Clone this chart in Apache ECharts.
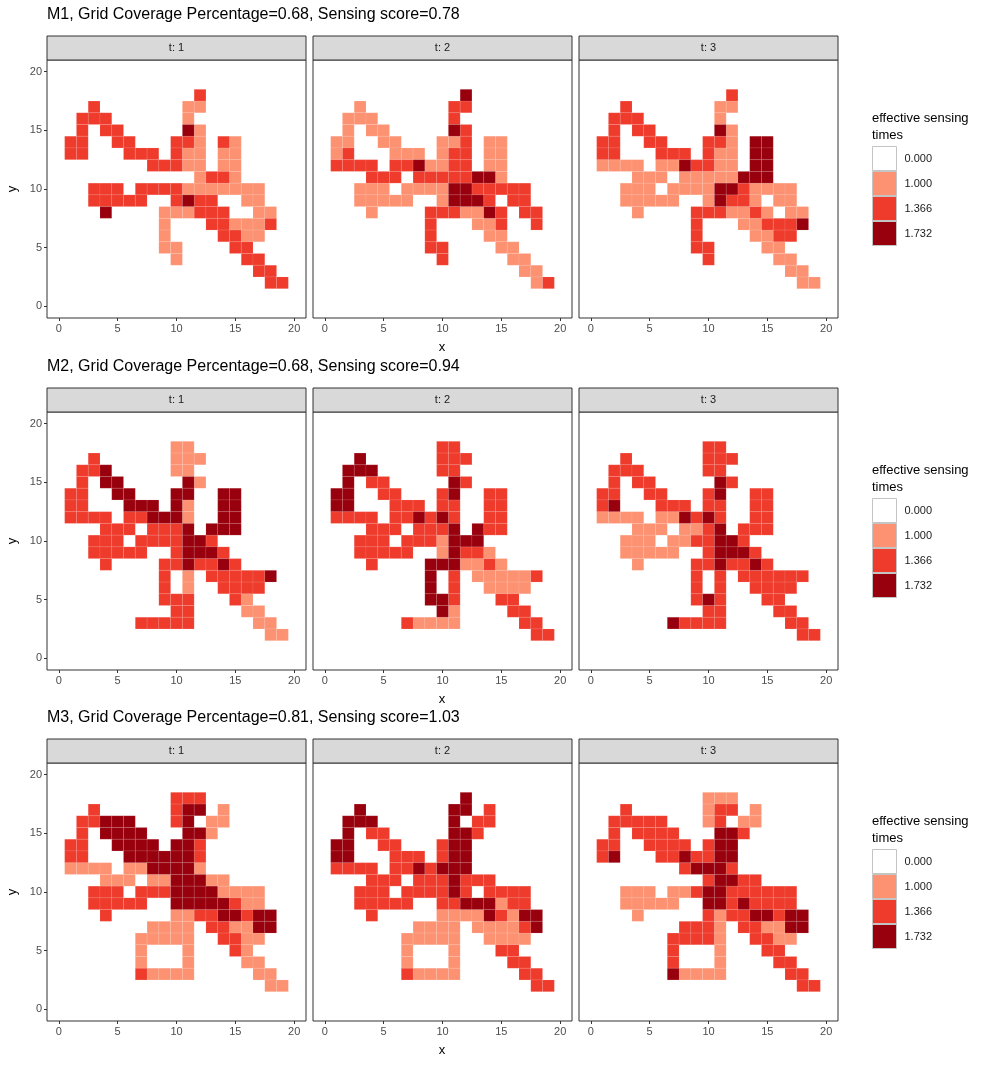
<!DOCTYPE html>
<html>
<head>
<meta charset="utf-8">
<script src="https://cdn.jsdelivr.net/npm/echarts@6/dist/echarts.min.js"></script>
<style>
  html, body { margin: 0; padding: 0; background: #fff; }
  #chart { width: 994px; height: 1070px; }
</style>
</head>
<body>
<div id="chart"></div>
<script>
// cell codes: L = 1.000, M = 1.366, D = 1.732, '.' = no cell
// each panel: rows for y = 18 down to y = 2, columns x = 0..20
const rowYs = [18, 17, 16, 15, 14, 13, 12, 11, 10, 9, 8, 7, 6, 5, 4, 3, 2];

const m1t1 = [
  "............M........",
  "...M.......LL........",
  "..MMM......L.........",
  "..M.MM.....DL........",
  ".MM..MM...MML.ML.....",
  ".MM...MMM.MLL.LL.....",
  "........MMMLL.LL.....",
  "............LMML.....",
  "...MMM.MMMMLLLLLLL...",
  "...MMMMM..MDMM..LL...",
  "....D....LLLMMM..LL..",
  ".........L...MMLLLM..",
  ".........L....MMLL...",
  ".........LL....MM....",
  "..........L.....MM...",
  ".................MM..",
  "..................MM."
];
const m1t2 = [
  "............D........",
  "...L.......MM........",
  "..LLL......M.........",
  "..L.LL.....DM........",
  ".LL..LL...LLM.LL.....",
  ".LM...LLL.LMM.LL.....",
  ".MMMM.MMDLLMM.LL.....",
  "....MMM.MMMMMDDL.....",
  "...LLL.LLLLDDMMMMM...",
  "...LLLLL..LDDDM.MM...",
  "....L....MMMLLDM.MM..",
  ".........M...LLM..M..",
  ".........M....LL.....",
  ".........MM....LL....",
  "..........M.....LL...",
  ".................LL..",
  "..................LM."
];
const m1t3 = [
  "............M........",
  "...M.......LL........",
  "..MMM......L.........",
  "..M.MM.....DL........",
  ".MM..MM...MML.DD.....",
  ".MM...MMM.MLL.DD.....",
  ".LLLL.LLDMMLL.DD.....",
  "....LLL.LLLLLDDD.....",
  "...LLL.LLLLDDMLLLL...",
  "...LLLLL..LDMML.LL...",
  "....L....MMMLLML.LL..",
  ".........M...LLMMMD..",
  ".........M....LLMM...",
  ".........MM....LL....",
  "..........M.....LL...",
  ".................LL..",
  "..................LL."
];
const m2t1 = [
  "..........LL.........",
  "...M......LLL........",
  "..MMD.....LL.........",
  "..M.DD.....DL........",
  ".MM..DD...DD..DD.....",
  ".MM...DDD.DL..DD.....",
  ".MMMM.MMDDDL..DD.....",
  "....MMM.MMMD.DDD.....",
  "...MMM.MMMMDDM.......",
  "...MMMMM..MDDDM......",
  "....M....MMDMMDM.....",
  ".........M.L.MMMMMD..",
  ".........M.L..MMMM...",
  ".........MMM...ML....",
  "..........MM....LL...",
  ".......MMMMM.....LL..",
  "..................LL."
];
const m2t2 = [
  "..........MM.........",
  "...D......MMM........",
  "..DDD.....MM.........",
  "..D.MM.....DM........",
  ".DD..MM...MD..MM.....",
  ".DD...MMM.MM..MM.....",
  ".MMMM.MMDMDM..MM.....",
  "....MMM.MMMD.DMM.....",
  "...MMM.MMMLDDD.......",
  "...MMMMM..LDMML......",
  "....M....DDDLLML.....",
  ".........D.M.LLLLLM..",
  ".........D.M..LLLL...",
  ".........DDM...MM....",
  "..........DL....MM...",
  ".......MLLLL.....MM..",
  "..................MM."
];
const m2t3 = [
  "..........MM.........",
  "...M......MMM........",
  "..MMM.....MM.........",
  "..M.MM.....DM........",
  ".MM..MM...MD..MM.....",
  ".MD...MMM.MM..MM.....",
  ".LLLL.LLDMDM..MM.....",
  "....LLL.LLMD.MMM.....",
  "...LLL.LLMMDDM.......",
  "...LLLLL..MDDDM......",
  "....L....MMDMMDM.....",
  ".........M.M.MMMMMM..",
  ".........M.M..MMMM...",
  ".........MDM...MM....",
  "..........MM....MM...",
  ".......DMMMM.....MM..",
  "..................MM."
];
const m3t1 = [
  "..........MMM........",
  "...M......MDD.L......",
  "..MMDDD...MD.LL......",
  "..M.DDDD...DDL.......",
  ".MM..DDDD.DDM........",
  ".MM...DDDDDDM........",
  ".LLLL.LLDDDDL........",
  "....LLL.LLDDDLL......",
  "...MMM.MMMDDDDLLLL...",
  "...MMMMM..DDDDDMLL...",
  "....M.....LLMMDDMDD..",
  "........LLLL.MMLLDD..",
  ".......LLLLL..MMLL...",
  ".......L...L...ML....",
  ".......L...L....LL...",
  ".......MLLLL.....LL..",
  "..................LL."
];
const m3t2 = [
  "............D........",
  "...D.......DD.M......",
  "..DDD......D.MM......",
  "..D.MM.....DDM.......",
  ".DD..MM...MDD........",
  ".DD...MMM.MDD........",
  ".MMMM.MMDMDDD........",
  "....MMM.MMMDMMM......",
  "...MMM.MMMMDM.MMMM...",
  "...MMMMM..MMDDDLMM...",
  "....M.....LLLLDMLDD..",
  "........LLLL.LLLLMD..",
  ".......LLLLL..LLLL...",
  ".......L...L...MM....",
  ".......L...L....MM...",
  ".......MLLLL.....MM..",
  "..................MM."
];
const m3t3 = [
  "..........LLL........",
  "...M......LMM.L......",
  "..MMMMM...LM.LL......",
  "..M.MMMM...DDM.......",
  ".MM..MMMM.MDD........",
  ".MD...MMDMMDD........",
  "........MDDDM........",
  "..........MDDMM......",
  "...LLL.LLMDDMMMMMM...",
  "...LLLLL..DDMDMMMM...",
  "....L.....MLMMDDMDD..",
  "........MMML.MMLLDD..",
  ".......MMMML..MMLL...",
  ".......M...L...MM....",
  ".......M...L....MM...",
  ".......DLLLL.....MM..",
  "..................MM."
];

const codeValues = { L: 1.000, M: 1.366, D: 1.732 };
const legendLabels = ['0.000', '1.000', '1.366', '1.732'];
const legendValues = [0.000, 1.000, 1.366, 1.732];
const legendColors = ['#FFFFFF', '#FC9272', '#EF3B2C', '#99000D'];

const rowTitles = [
  'M1, Grid Coverage Percentage=0.68, Sensing score=0.78',
  'M2, Grid Coverage Percentage=0.68, Sensing score=0.94',
  'M3, Grid Coverage Percentage=0.81, Sensing score=1.03'
];
const stripLabels = ['t: 1', 't: 2', 't: 3'];
const tickValues = [0, 5, 10, 15, 20];

const panels = [[m1t1, m1t2, m1t3], [m2t1, m2t2, m2t3], [m3t1, m3t2, m3t3]];

function toCells(rows) {
  const cells = [];
  rows.forEach((row, i) => {
    for (let x = 0; x < row.length; x++) {
      const c = row[x];
      if (c !== '.') cells.push([x, rowYs[i], codeValues[c]]);
    }
  });
  return cells;
}

const FONT = 'Liberation Sans, Arial, Helvetica, sans-serif';
const colLeft = [47, 313, 579];
const rowTop = [60, 412, 763];
const panelW = 259, panelH = 258;

const grids = [], xAxes = [], yAxes = [], series = [], titles = [], legends = [], graphics = [];

function renderTile(params, api) {
  const x = api.value(0), y = api.value(1);
  const p0 = api.coord([x - 0.5, y + 0.5]);
  const p1 = api.coord([x + 0.5, y - 0.5]);
  return {
    type: 'rect',
    shape: { x: p0[0], y: p0[1], width: p1[0] - p0[0], height: p1[1] - p0[1] },
    style: { fill: api.visual('color'), stroke: 'rgba(255,255,255,0.18)', lineWidth: 0.5 }
  };
}

panels.forEach((row, r) => {
  titles.push({
    text: rowTitles[r], left: 47, top: rowTop[r] - 53, padding: 0,
    textStyle: { fontFamily: FONT, fontSize: 16, fontWeight: 'normal', color: '#000' }
  });

  row.forEach((rows, c) => {
    const g = grids.length;
    grids.push({
      left: colLeft[c], top: rowTop[r], width: panelW, height: panelH,
      show: true, backgroundColor: '#fff', borderColor: '#333', borderWidth: 1
    });
    xAxes.push({
      gridIndex: g, type: 'value', min: -1, max: 21, position: 'bottom',
      axisLine: { show: false, onZero: false },
      splitLine: { show: false },
      axisTick: { show: true, inside: false, length: 3, lineStyle: { color: '#333' }, customValues: tickValues },
      axisLabel: { color: '#4d4d4d', fontSize: 11, fontFamily: FONT, margin: 5, customValues: tickValues }
    });
    yAxes.push({
      gridIndex: g, type: 'value', min: -1, max: 21, position: 'left',
      axisLine: { show: false, onZero: false },
      splitLine: { show: false },
      axisTick: { show: c === 0, inside: false, length: 3, lineStyle: { color: '#333' }, customValues: tickValues },
      axisLabel: { show: c === 0, color: '#4d4d4d', fontSize: 11, fontFamily: FONT, margin: 5, customValues: tickValues }
    });

    const cells = toCells(rows);
    legendValues.forEach((v, k) => {
      series.push({
        name: legendLabels[k], type: 'custom', xAxisIndex: g, yAxisIndex: g,
        renderItem: renderTile,
        itemStyle: { color: legendColors[k] },
        data: cells.filter(d => d[2] === v),
        silent: true, animation: false
      });
    });

    // facet strip
    graphics.push({
      type: 'rect',
      shape: { x: colLeft[c], y: rowTop[r] - 24, width: panelW, height: 24 },
      style: { fill: '#d9d9d9', stroke: '#333', lineWidth: 1 }
    });
    graphics.push({
      type: 'text', x: colLeft[c] + panelW / 2, y: rowTop[r] - 12,
      style: { text: stripLabels[c], fontFamily: FONT, fontSize: 11, fill: '#1a1a1a', align: 'center', verticalAlign: 'middle' }
    });
  });

  // axis titles
  graphics.push({
    type: 'text', x: 442, y: rowTop[r] + panelH + 29,
    style: { text: 'x', fontFamily: FONT, fontSize: 13, fill: '#000', align: 'center', verticalAlign: 'middle' }
  });
  graphics.push({
    type: 'text', x: 12, y: rowTop[r] + panelH / 2, rotation: Math.PI / 2,
    style: { text: 'y', fontFamily: FONT, fontSize: 13, fill: '#000', align: 'center', verticalAlign: 'middle' }
  });

  // legend title and keys
  graphics.push({
    type: 'text', x: 872, y: rowTop[r] + 50,
    style: { text: 'effective sensing\ntimes', fontFamily: FONT, fontSize: 13, lineHeight: 17, fill: '#000', align: 'left', verticalAlign: 'top' }
  });
  legends.push({
    data: legendLabels, orient: 'vertical', left: 872, top: rowTop[r] + 86, padding: 0,
    itemWidth: 24, itemHeight: 24, itemGap: 0, icon: 'rect', selectedMode: false,
    itemStyle: { borderColor: '#c4c4c4', borderWidth: 1 },
    textStyle: { fontFamily: FONT, fontSize: 11, color: '#1a1a1a', padding: [0, 0, 0, 3] }
  });
});

const chart = echarts.init(document.getElementById('chart'), null, { renderer: 'canvas' });
chart.setOption({
  backgroundColor: '#fff',
  animation: false,
  title: titles,
  legend: legends,
  grid: grids,
  xAxis: xAxes,
  yAxis: yAxes,
  series: series,
  graphic: graphics
});
</script>
</body>
</html>
